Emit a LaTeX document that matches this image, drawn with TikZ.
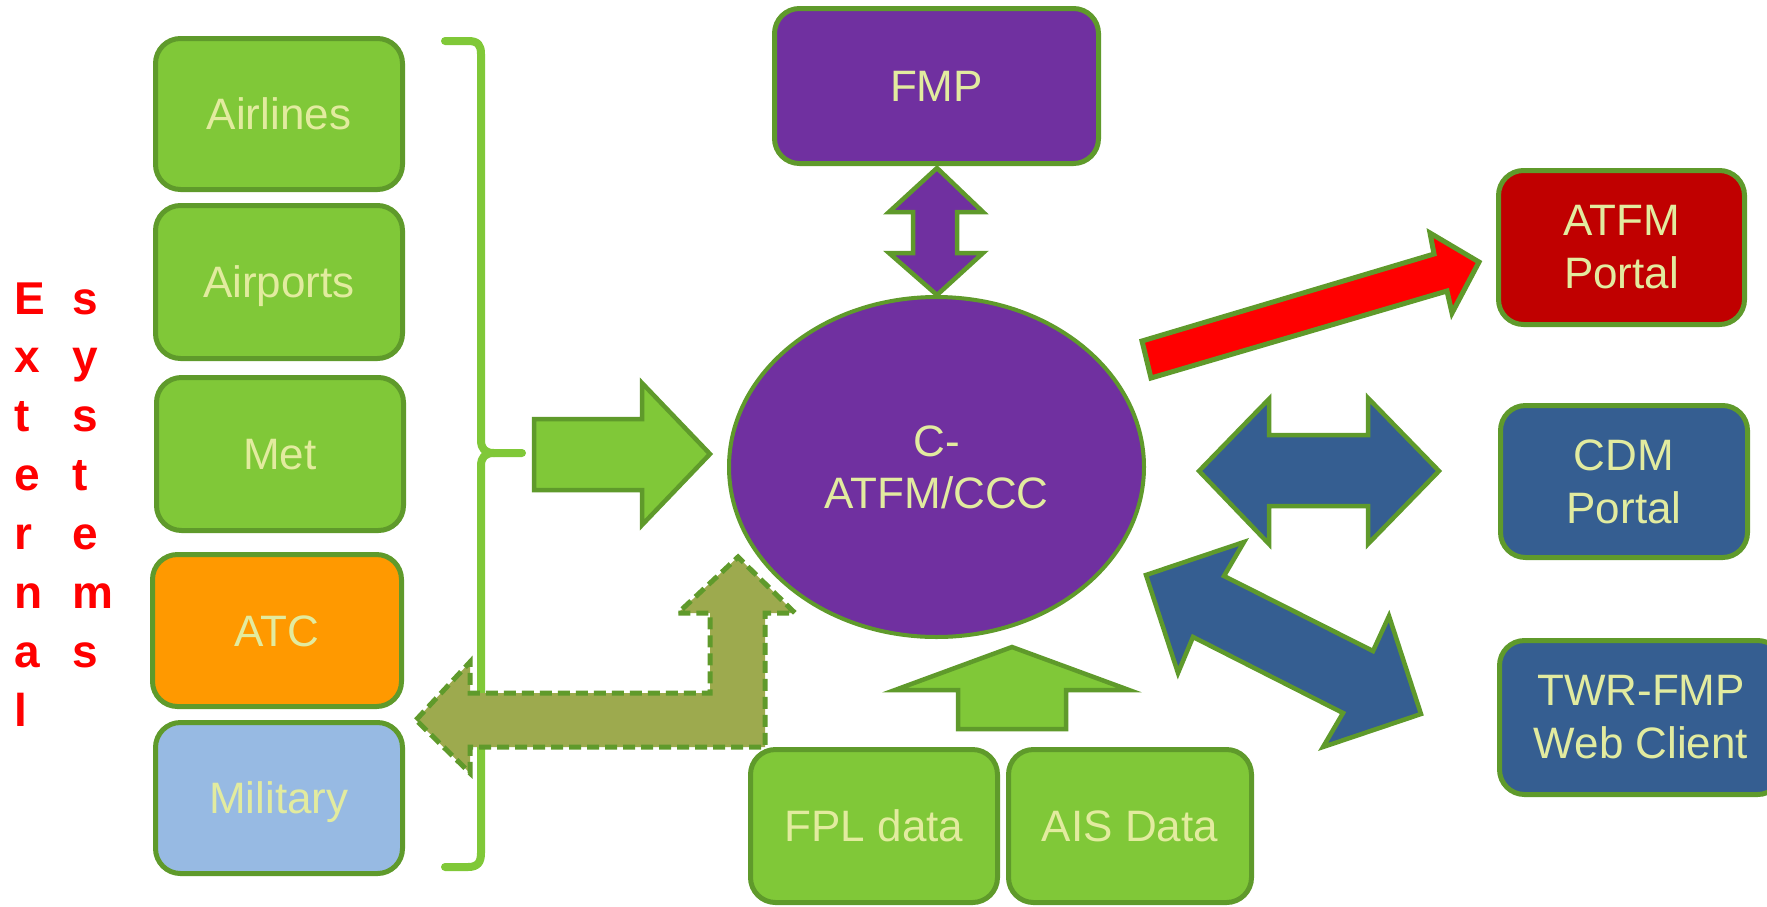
\documentclass[tikz,border=0pt]{standalone}
\usepackage{fontspec}
\setmainfont{Liberation Sans}
\usetikzlibrary{shapes.geometric}
\definecolor{gfill}{HTML}{80C838}
\definecolor{gline}{HTML}{5F9A2B}
\definecolor{txt}{HTML}{E2EB9F}
\definecolor{purp}{HTML}{7030A0}
\definecolor{dred}{HTML}{C00000}
\definecolor{blu}{HTML}{355E91}
\definecolor{lblu}{HTML}{97BAE3}
\definecolor{orng}{HTML}{FF9900}
\definecolor{olive}{HTML}{9DAA4E}
\definecolor{rd}{HTML}{FF0000}
\tikzset{
  box/.style={draw=gline, line width=5pt, rounded corners=25pt, inner sep=0pt,
    text=txt, align=center, font=\fontsize{44}{53}\selectfont},
  oneline/.style={text height=31.5pt, text depth=0pt},
  blockarrow/.style={draw=gline, line width=4.5pt, line join=miter},
  letter/.style={anchor=base west, inner sep=0pt, text=rd, font=\fontsize{46}{50}\selectfont\bfseries},
}
\begin{document}
\begin{tikzpicture}[x=1pt,y=-1pt]
\useasboundingbox (0,0) rectangle (1767,906);
% left column boxes
\node[box, oneline, fill=gfill, minimum width=247, minimum height=151] (airlines) at (279,114) {Airlines};
\node[box, oneline, fill=gfill, minimum width=247, minimum height=153] (airports) at (279,282) {Airports};
\node[box, oneline, fill=gfill, minimum width=247, minimum height=153] (met) at (280,454) {Met};
\node[box, oneline, fill=orng, minimum width=249, minimum height=152] (atc) at (277,630.5) {ATC};
\node[box, oneline, fill=lblu, minimum width=247, minimum height=151] (military) at (279,798) {Military};
% top and right boxes
\node[box, oneline, fill=purp, minimum width=324, minimum height=155] (fmp) at (936.5,86) {FMP};
\node[box, fill=dred, minimum width=246, minimum height=154] (atfm) at (1621.5,247.5) {ATFM\\Portal};
\node[box, fill=blu, minimum width=247, minimum height=152] (cdm) at (1624,481.5) {CDM\\Portal};
\node[box, fill=blu, minimum width=283, minimum height=154] (twr) at (1641,717.5) {TWR-FMP\\Web Client};
% bottom boxes
\node[box, oneline, fill=gfill, minimum width=247, minimum height=153] (fpl) at (874,826) {FPL data};
\node[box, oneline, fill=gfill, minimum width=243, minimum height=153] (ais) at (1130,826) {AIS Data};
% core ellipse
\node[ellipse, draw=gline, line width=4pt, fill=purp, minimum width=415, minimum height=340,
  inner sep=0pt, text=txt, align=center, font=\fontsize{44}{52}\selectfont] (core) at (936.5,467) {C-\\ATFM/CCC};
% brace
\draw[gfill, line width=8pt, line cap=round, line join=round]
  (445,41) -- (468,41) .. controls (478,41) and (481,45) .. (481,54) -- (481,440)
  .. controls (481,449) and (485,453) .. (494,453) -- (522,453);
\draw[gfill, line width=8pt, line cap=round, line join=round]
  (494,453) .. controls (485,453) and (481,457) .. (481,466) -- (481,853)
  .. controls (481,862) and (478,867) .. (468,867) -- (445,867);
% green arrow into core
\draw[blockarrow, fill=gfill] (534,419) -- (642,419) -- (642,383) -- (710,454) -- (642,525) -- (642,490) -- (534,490) -- cycle;
% up arrow from FPL/AIS
\draw[blockarrow, fill=gfill] (958,729) -- (958,690) -- (895,690) -- (1012,647) -- (1129,690) -- (1066,690) -- (1066,729) -- cycle;
% FMP double arrow
\draw[blockarrow, fill=purp] (937,168) -- (983,212) -- (957,212) -- (957,253) -- (983,253) -- (937,295)
  -- (889,253) -- (913,253) -- (913,212) -- (889,212) -- cycle;
% olive dashed L arrow
\draw[draw=gline, line width=5pt, dash pattern=on 12pt off 6pt, fill=olive]
  (416,720) -- (470,662) -- (470,693) -- (710,693) -- (710,613) -- (678,613) -- (738,557)
  -- (795,613) -- (765,613) -- (765,747) -- (470,747) -- (470,773) -- cycle;
% red arrow to ATFM portal
\draw[blockarrow, line width=5pt, fill=rd] (1142,341) -- (1434,254) -- (1430,233) -- (1479,262) -- (1452,313) -- (1447,291) -- (1151,378) -- cycle;
% blue double arrow to CDM
\draw[blockarrow, fill=blu] (1199,471) -- (1269,399) -- (1269,435) -- (1368,435) -- (1368,398) -- (1439,471)
  -- (1368,544) -- (1368,506) -- (1269,506) -- (1269,544) -- cycle;
% blue diagonal double arrow to TWR
\draw[blockarrow, fill=blu] (1146,575) -- (1244,542) -- (1224,576) -- (1373,651) -- (1389,616) -- (1421,714)
  -- (1323,747) -- (1343,713) -- (1193,637) -- (1178,673) -- cycle;
% vertical red text
\foreach \ch [count=\i from 0] in {E,x,t,e,r,n,a,l}
  \node[letter] (ext\i) at (14,314+58.9*\i) {\ch};
\foreach \ch [count=\i from 0] in {s,y,s,t,e,m,s}
  \node[letter] (sys\i) at (72,314+58.9*\i) {\ch};
\end{tikzpicture}
\end{document}
